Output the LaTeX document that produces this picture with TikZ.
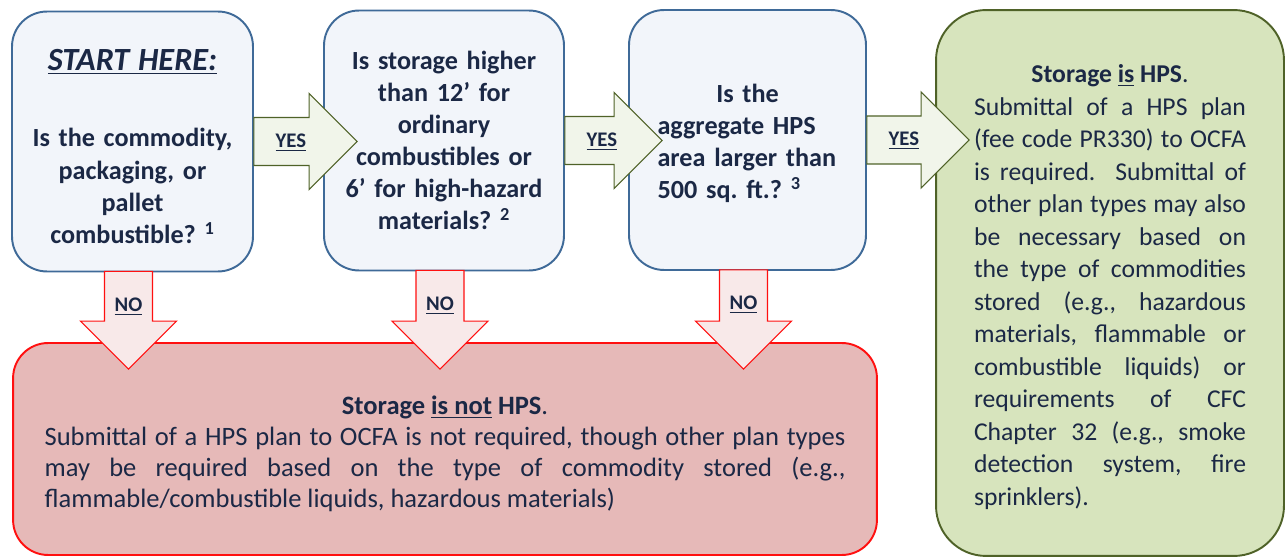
\documentclass[tikz,border=0pt]{standalone}
\usepackage{fontspec}
\setmainfont{Carlito}
\usepackage{tikz}
\usetikzlibrary{calc}
\definecolor{txtcol}{HTML}{1B2845}
\definecolor{qfill}{HTML}{F2F5FA}
\definecolor{qline}{HTML}{3F6A98}
\definecolor{hpsfill}{HTML}{D7E4BD}
\definecolor{hpsline}{HTML}{4F6228}
\definecolor{notfill}{HTML}{E6B9B8}
\definecolor{notline}{HTML}{FF1010}
\definecolor{yesfill}{HTML}{F1F5EA}
\definecolor{nofill}{HTML}{F8E9E9}
\hyphenpenalty=10000
\exhyphenpenalty=10000
\tolerance=10000
\hbadness=10000
\frenchspacing

\begin{document}
\begin{tikzpicture}[x=0.02cm,y=-0.02cm]
\tikzstyle{qbox} = [rectangle,rounded corners=0.7cm,draw=qline,fill=qfill,line width=1.1pt,
minimum height=5.2cm,text=txtcol,font=\bfseries\fontsize{14.9}{18.3}\selectfont]
\tikzstyle{result} = [rectangle,line width=1.1pt,text=txtcol,align=justify,
font=\fontsize{14.6}{18.5}\selectfont]
\tikzstyle{yesarrow} = [draw=hpsline,fill=yesfill,line width=0.6pt]
\tikzstyle{noarrow} = [draw=notline,fill=nofill,line width=0.6pt]
\tikzstyle{tag} = [text=txtcol,font=\bfseries\fontsize{11.8}{13}\selectfont,inner sep=0pt]
\useasboundingbox (0,0) rectangle (1285,557);
\node[qbox,minimum width=4.82cm,text width=4.3cm,align=center] (q1) at (132.5,141.5)
{\rule{0pt}{17.8pt}{\fontsize{18.4}{20}\selectfont\textit{\underline{START HERE:}}}\\[25pt]
Is the commodity,\\ packaging, or\\ pallet\\ combustible? \textsuperscript{1}};
\node[qbox,minimum width=4.8cm,text width=4.4cm,align=center] (q2) at (444,140.5)
{Is storage higher\\ than 12’ for\\ ordinary\\ combustibles or\\ 6’ for high-hazard\\ materials? \textsuperscript{2}};
\node[qbox,minimum width=4.74cm,text width=3.6cm,align=left] (q3) at (747.5,140)
{\makebox[3.6cm]{\rule{0pt}{14.5pt}Is the}\\ aggregate HPS\\ area larger than\\ 500 sq. ft.? \textsuperscript{3}};
\node[result,rounded corners=1cm,draw=hpsline,fill=hpsfill,minimum width=6.96cm,
minimum height=10.92cm,text width=5.44cm] (hps) at (1110,283)
{{\centering\rule{0pt}{15pt}\textbf{Storage \underline{is} HPS}.\par}Submittal of a HPS plan\linebreak
(fee code PR330) to OCFA\linebreak is required.\ \ Submittal of\linebreak
other plan types may also\linebreak be necessary based on\linebreak
the type of commodities\linebreak stored (e.g., hazardous\linebreak
materials, flammable or\linebreak combustible liquids) or\linebreak
requirements of CFC\linebreak Chapter 32 (e.g., smoke\linebreak
detection system, fire\linebreak sprinklers).};
\node[result,rounded corners=0.7cm,draw=notline,fill=notfill,minimum width=17.28cm,
minimum height=4.24cm,text width=16.02cm,font=\fontsize{15.1}{17.6}\selectfont] (notHPS) at (445,449)
{{\centering\rule{0pt}{16.5pt}\textbf{Storage \underline{is not} HPS}.\par}Submittal of a HPS plan to OCFA is not
required, though other plan types\linebreak may be required based on the type of commodity
stored (e.g.,\linebreak flammable/combustible liquids, hazardous materials)};
\foreach \a/\b in {q1/q2,q2/q3,q3/hps} {
\draw[yesarrow] ($(\a.east)+(0,-24)$) -- ($(\a.east -| \b.west)+(-14,-24)$)
-- ($(\a.east -| \b.west)+(-14,-48)$) -- ($(\a.east -| \b.west)+(34,0)$)
-- ($(\a.east -| \b.west)+(-14,48)$) -- ($(\a.east -| \b.west)+(-14,24)$)
-- ($(\a.east)+(0,24)$) -- cycle;
\node[tag] (yes\a) at ($(\a.east)+(37,1)$) {\underline{YES}};
}
\foreach \a in {q1,q2,q3} {
\draw[noarrow] ($(\a.south)+(-28,-1)$) -- ($(\a.south |- notHPS.north)+(-28,-21)$)
-- ($(\a.south |- notHPS.north)+(-52,-21)$) -- ($(\a.south |- notHPS.north)+(-4,27)$)
-- ($(\a.south |- notHPS.north)+(44,-21)$) -- ($(\a.south |- notHPS.north)+(20,-21)$)
-- ($(\a.south)+(20,-1)$) -- cycle;
\node[tag] (no\a) at ($(\a.south)+(-4,34)$) {\underline{NO}};
}
\end{tikzpicture}
\end{document}
